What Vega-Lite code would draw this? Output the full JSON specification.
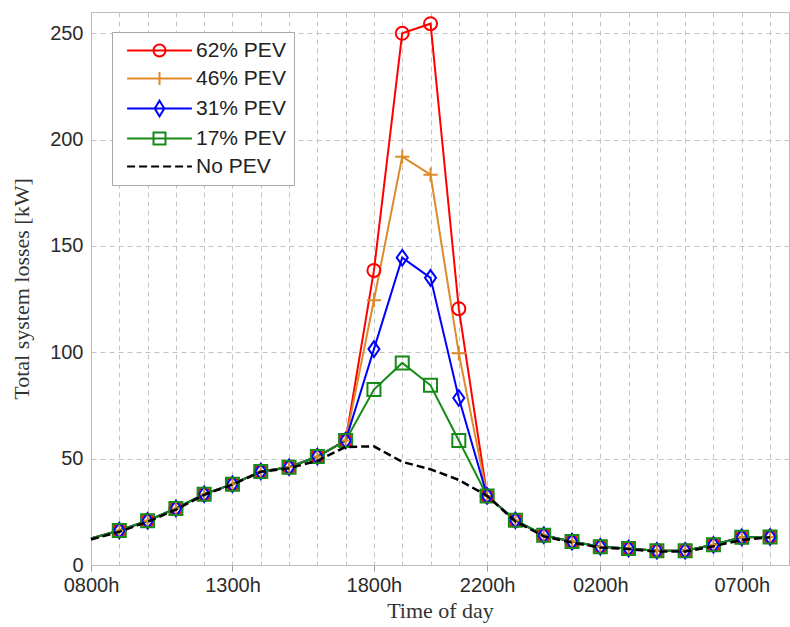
{
  "$schema": "https://vega.github.io/schema/vega-lite/v6.json",
  "width": 698,
  "height": 553,
  "autosize": {"type": "none"},
  "padding": {"left": 91, "top": 12, "right": 1, "bottom": 62},
  "background": "white",
  "config": {
    "view": {"stroke": "#bdbdbd", "strokeWidth": 1},
    "axis": {
      "domainColor": "#bdbdbd",
      "gridColor": "#c4c4c4",
      "gridDash": [5, 4],
      "gridWidth": 1,
      "tickColor": "#9a9a9a",
      "labelFont": "Liberation Sans",
      "labelFontSize": 20,
      "labelColor": "#2b2b2b",
      "titleFont": "Liberation Serif",
      "titleFontSize": 22,
      "titleFontWeight": "normal",
      "titleColor": "#333333"
    }
  },
  "data": {
    "values": [
      {"s": "62% PEV", "h": 0, "v": 12.5}, {"s": "62% PEV", "h": 1, "v": 16.2}, {"s": "62% PEV", "h": 2, "v": 20.8}, {"s": "62% PEV", "h": 3, "v": 26.6}, {"s": "62% PEV", "h": 4, "v": 33.3}, {"s": "62% PEV", "h": 5, "v": 38.0}, {"s": "62% PEV", "h": 6, "v": 44.0}, {"s": "62% PEV", "h": 7, "v": 46.0}, {"s": "62% PEV", "h": 8, "v": 51.0}, {"s": "62% PEV", "h": 9, "v": 58.5}, {"s": "62% PEV", "h": 10, "v": 138.5}, {"s": "62% PEV", "h": 11, "v": 250}, {"s": "62% PEV", "h": 12, "v": 254.5}, {"s": "62% PEV", "h": 13, "v": 120.5}, {"s": "62% PEV", "h": 14, "v": 32.5}, {"s": "62% PEV", "h": 15, "v": 21.0}, {"s": "62% PEV", "h": 16, "v": 14.0}, {"s": "62% PEV", "h": 17, "v": 11.0}, {"s": "62% PEV", "h": 18, "v": 8.6}, {"s": "62% PEV", "h": 19, "v": 7.8}, {"s": "62% PEV", "h": 20, "v": 6.7}, {"s": "62% PEV", "h": 21, "v": 6.7}, {"s": "62% PEV", "h": 22, "v": 9.5}, {"s": "62% PEV", "h": 23, "v": 13.0}, {"s": "62% PEV", "h": 24, "v": 13.2},
      {"s": "46% PEV", "h": 0, "v": 12.5}, {"s": "46% PEV", "h": 1, "v": 16.2}, {"s": "46% PEV", "h": 2, "v": 20.8}, {"s": "46% PEV", "h": 3, "v": 26.6}, {"s": "46% PEV", "h": 4, "v": 33.3}, {"s": "46% PEV", "h": 5, "v": 38.0}, {"s": "46% PEV", "h": 6, "v": 44.0}, {"s": "46% PEV", "h": 7, "v": 46.0}, {"s": "46% PEV", "h": 8, "v": 51.0}, {"s": "46% PEV", "h": 9, "v": 58.5}, {"s": "46% PEV", "h": 10, "v": 124.5}, {"s": "46% PEV", "h": 11, "v": 192}, {"s": "46% PEV", "h": 12, "v": 183.5}, {"s": "46% PEV", "h": 13, "v": 99.5}, {"s": "46% PEV", "h": 14, "v": 32.5}, {"s": "46% PEV", "h": 15, "v": 21.0}, {"s": "46% PEV", "h": 16, "v": 14.0}, {"s": "46% PEV", "h": 17, "v": 11.0}, {"s": "46% PEV", "h": 18, "v": 8.6}, {"s": "46% PEV", "h": 19, "v": 7.8}, {"s": "46% PEV", "h": 20, "v": 6.7}, {"s": "46% PEV", "h": 21, "v": 6.7}, {"s": "46% PEV", "h": 22, "v": 9.5}, {"s": "46% PEV", "h": 23, "v": 13.0}, {"s": "46% PEV", "h": 24, "v": 13.2},
      {"s": "31% PEV", "h": 0, "v": 12.5}, {"s": "31% PEV", "h": 1, "v": 16.2}, {"s": "31% PEV", "h": 2, "v": 20.8}, {"s": "31% PEV", "h": 3, "v": 26.6}, {"s": "31% PEV", "h": 4, "v": 33.3}, {"s": "31% PEV", "h": 5, "v": 38.0}, {"s": "31% PEV", "h": 6, "v": 44.0}, {"s": "31% PEV", "h": 7, "v": 46.0}, {"s": "31% PEV", "h": 8, "v": 51.0}, {"s": "31% PEV", "h": 9, "v": 58.5}, {"s": "31% PEV", "h": 10, "v": 101.5}, {"s": "31% PEV", "h": 11, "v": 144.5}, {"s": "31% PEV", "h": 12, "v": 135}, {"s": "31% PEV", "h": 13, "v": 78.5}, {"s": "31% PEV", "h": 14, "v": 32.5}, {"s": "31% PEV", "h": 15, "v": 21.0}, {"s": "31% PEV", "h": 16, "v": 14.0}, {"s": "31% PEV", "h": 17, "v": 11.0}, {"s": "31% PEV", "h": 18, "v": 8.6}, {"s": "31% PEV", "h": 19, "v": 7.8}, {"s": "31% PEV", "h": 20, "v": 6.7}, {"s": "31% PEV", "h": 21, "v": 6.7}, {"s": "31% PEV", "h": 22, "v": 9.5}, {"s": "31% PEV", "h": 23, "v": 13.0}, {"s": "31% PEV", "h": 24, "v": 13.2},
      {"s": "17% PEV", "h": 0, "v": 12.5}, {"s": "17% PEV", "h": 1, "v": 16.2}, {"s": "17% PEV", "h": 2, "v": 20.8}, {"s": "17% PEV", "h": 3, "v": 26.6}, {"s": "17% PEV", "h": 4, "v": 33.3}, {"s": "17% PEV", "h": 5, "v": 38.0}, {"s": "17% PEV", "h": 6, "v": 44.0}, {"s": "17% PEV", "h": 7, "v": 46.0}, {"s": "17% PEV", "h": 8, "v": 51.0}, {"s": "17% PEV", "h": 9, "v": 58.5}, {"s": "17% PEV", "h": 10, "v": 82.5}, {"s": "17% PEV", "h": 11, "v": 95}, {"s": "17% PEV", "h": 12, "v": 84.5}, {"s": "17% PEV", "h": 13, "v": 58.5}, {"s": "17% PEV", "h": 14, "v": 32.5}, {"s": "17% PEV", "h": 15, "v": 21.0}, {"s": "17% PEV", "h": 16, "v": 14.0}, {"s": "17% PEV", "h": 17, "v": 11.0}, {"s": "17% PEV", "h": 18, "v": 8.6}, {"s": "17% PEV", "h": 19, "v": 7.8}, {"s": "17% PEV", "h": 20, "v": 6.7}, {"s": "17% PEV", "h": 21, "v": 6.7}, {"s": "17% PEV", "h": 22, "v": 9.5}, {"s": "17% PEV", "h": 23, "v": 13.0}, {"s": "17% PEV", "h": 24, "v": 13.2},
      {"s": "No PEV", "h": 0, "v": 12.0}, {"s": "No PEV", "h": 1, "v": 15.6}, {"s": "No PEV", "h": 2, "v": 20.3}, {"s": "No PEV", "h": 3, "v": 26.0}, {"s": "No PEV", "h": 4, "v": 33.0}, {"s": "No PEV", "h": 5, "v": 37.8}, {"s": "No PEV", "h": 6, "v": 43.8}, {"s": "No PEV", "h": 7, "v": 45.5}, {"s": "No PEV", "h": 8, "v": 49.0}, {"s": "No PEV", "h": 9, "v": 55.5}, {"s": "No PEV", "h": 10, "v": 55.8}, {"s": "No PEV", "h": 11, "v": 48.5}, {"s": "No PEV", "h": 12, "v": 45.0}, {"s": "No PEV", "h": 13, "v": 40.0}, {"s": "No PEV", "h": 14, "v": 32.5}, {"s": "No PEV", "h": 15, "v": 20.5}, {"s": "No PEV", "h": 16, "v": 13.5}, {"s": "No PEV", "h": 17, "v": 10.5}, {"s": "No PEV", "h": 18, "v": 8.2}, {"s": "No PEV", "h": 19, "v": 7.5}, {"s": "No PEV", "h": 20, "v": 6.3}, {"s": "No PEV", "h": 21, "v": 6.3}, {"s": "No PEV", "h": 22, "v": 8.8}, {"s": "No PEV", "h": 23, "v": 11.8}, {"s": "No PEV", "h": 24, "v": 13.0}
    ]
  },
  "encoding": {
    "x": {
      "field": "h",
      "type": "quantitative",
      "scale": {"domain": [0, 24.67], "nice": false, "zero": false},
      "axis": {
        "title": "Time of day",
        "values": [0, 1, 2, 3, 4, 5, 6, 7, 8, 9, 10, 11, 12, 13, 14, 15, 16, 17, 18, 19, 20, 21, 22, 23, 24],
        "labelExpr": "datum.value===0?'0800h':datum.value===5?'1300h':datum.value===10?'1800h':datum.value===14?'2200h':datum.value===18?'0200h':datum.value===23?'0700h':''",
        "labelOverlap": false,
        "labelFlush": false,
        "tickSize": 6,
        "tickOpacity": {"condition": {"test": "indexof([0,5,10,14,18,23], datum.value) >= 0", "value": 1}, "value": 0},
        "labelPadding": 4,
        "titlePadding": 5
      }
    },
    "y": {
      "field": "v",
      "type": "quantitative",
      "scale": {"domain": [0, 260], "nice": false},
      "axis": {
        "title": "Total system losses [kW]",
        "values": [0, 50, 100, 150, 200, 250],
        "tickSize": 0,
        "labelPadding": 8,
        "titlePadding": 16
      }
    }
  },
  "layer": [
    {
      "transform": [{"filter": "datum.s !== 'No PEV'"}],
      "mark": {"type": "line", "strokeWidth": 2},
      "encoding": {
        "color": {
          "field": "s",
          "type": "nominal",
          "scale": {"domain": ["62% PEV", "46% PEV", "31% PEV", "17% PEV", "No PEV"], "range": ["#ff0000", "#dd8a2a", "#0000ff", "#168a16", "#000000"]},
          "legend": {
            "title": null,
            "orient": "none",
            "legendX": 21,
            "legendY": 20,
            "symbolSize": 144,
            "symbolOffset": 29,
            "labelOffset": 26,
            "symbolStrokeWidth": 2,
            "labelFont": "Liberation Sans",
            "labelFontSize": 21,
            "labelColor": "#222222",
            "strokeColor": "#a8a8a8",
            "fillColor": "white",
            "padding": 8,
            "rowPadding": 6,
            "encode": {
              "symbols": {
                "update": {
                  "shape": {"signal": "datum.value === '62% PEV' ? 'M-5.4,0L5.4,0M1,0A1,1 0 1,1 -1,0A1,1 0 1,1 1,0' : datum.value === '46% PEV' ? 'M-5.4,0L5.4,0M0,-1.1L0,1.1' : datum.value === '31% PEV' ? 'M-5.4,0L5.4,0M0,-1.3L0.8,0L0,1.3L-0.8,0Z' : datum.value === '17% PEV' ? 'M-5.4,0L5.4,0M-1,-1L1,-1L1,1L-1,1Z' : 'M-5.4,0L5.4,0'"},
                  "strokeDash": {"signal": "datum.value === 'No PEV' ? [8, 4] : []"},
                  "strokeWidth": {"value": 2},
                  "fill": {"value": "transparent"}
                }
              }
            }
          }
        },
        "order": {"field": "h", "type": "quantitative"}
      }
    },
    {
      "transform": [{"filter": "datum.s !== 'No PEV' && datum.h >= 1"}],
      "mark": {"type": "point", "filled": false, "strokeWidth": 2, "opacity": 1, "size": 169},
      "encoding": {
        "color": {"field": "s", "type": "nominal", "legend": null},
        "shape": {
          "field": "s",
          "type": "nominal",
          "legend": null,
          "scale": {
            "domain": ["62% PEV", "46% PEV", "31% PEV", "17% PEV"],
            "range": ["M1,0A1,1 0 1,1 -1,0A1,1 0 1,1 1,0Z", "M-1.1,0L1.1,0M0,-1.1L0,1.1", "M0,-1.2L0.85,0L0,1.2L-0.85,0Z", "M-1,-1L1,-1L1,1L-1,1Z"]
          }
        }
      }
    },
    {
      "transform": [{"filter": "datum.s === 'No PEV'"}],
      "mark": {"type": "line", "strokeWidth": 2.5, "strokeDash": [8, 4]},
      "encoding": {
        "color": {"field": "s", "type": "nominal", "legend": null},
        "order": {"field": "h", "type": "quantitative"}
      }
    }
  ]
}
